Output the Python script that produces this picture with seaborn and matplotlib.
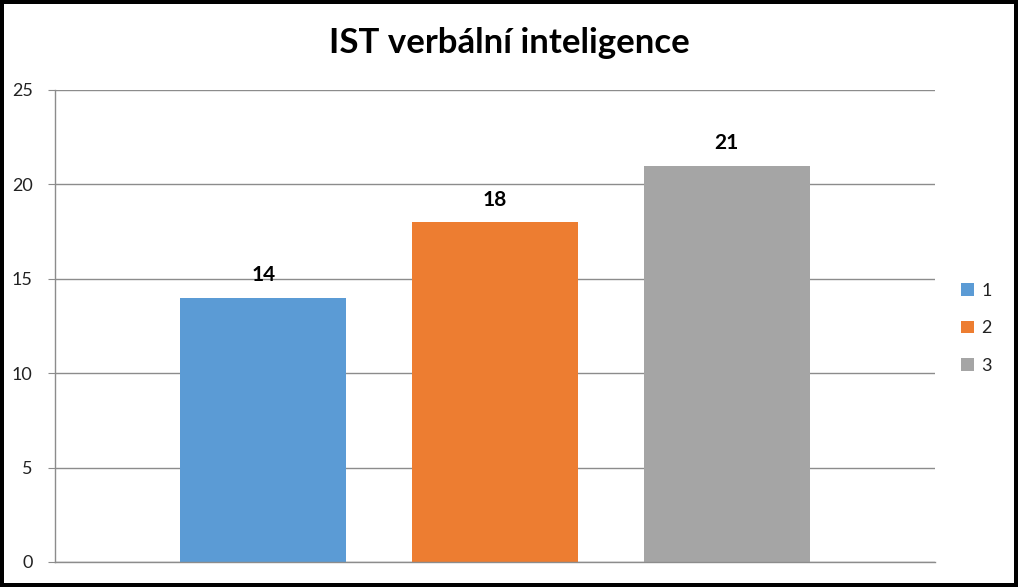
import matplotlib
matplotlib.use("Agg")
import matplotlib.pyplot as plt
import seaborn as sns
import pandas as pd

# chart data
categories = ["IST verbální inteligence"]
series = ["1", "2", "3"]
values = [14, 18, 21]
colors = ["#5B9BD5", "#ED7D31", "#A5A5A5"]
yticks = [0, 5, 10, 15, 20, 25]

sns.set_style("white")
plt.rcParams["font.family"] = ["Lato", "DejaVu Sans"]

df = pd.DataFrame({"Kategorie": categories * len(series), "Série": series, "Hodnota": values})

fig = plt.figure(figsize=(10.18, 5.87), dpi=100)
fig.patch.set_edgecolor("black")
fig.patch.set_linewidth(4.5)
ax = fig.add_axes([0.054, 0.0426, 0.8645, 0.8041])

sns.barplot(data=df, x="Kategorie", y="Hodnota", hue="Série", palette=colors,
            width=0.79, gap=0.285, saturation=1, linewidth=0, ax=ax, legend=True)

for cont in ax.containers:
    ax.bar_label(cont, fontsize=15, fontweight="bold", padding=9, color="black")

ax.set_ylim(0, 25)
ax.set_xlim(-0.5, 0.5)
ax.set_yticks(yticks)
ax.set_xticks([])
ax.set_xlabel("")
ax.set_ylabel("")
ax.yaxis.grid(True, color="#8c8c8c", linewidth=1)
ax.set_axisbelow(True)
for side in ["top", "right"]:
    ax.spines[side].set_visible(False)
for side in ["left", "bottom"]:
    ax.spines[side].set_color("#8c8c8c")
    ax.spines[side].set_linewidth(1)
ax.tick_params(axis="y", left=True, length=5, color="#8c8c8c", labelsize=13, pad=11,
               labelcolor="#222222")

handles, labels = ax.get_legend_handles_labels()
leg = ax.legend(handles, labels, loc="center left", bbox_to_anchor=(1.03, 0.495), frameon=False,
                borderaxespad=0, borderpad=0, handlelength=0.7, handleheight=0.7,
                handletextpad=0.4, labelspacing=1.2, fontsize=13)
for t in leg.get_texts():
    t.set_color("#222222")

fig.text(0.5, 1 - 43 / 587, "IST verbální inteligence", ha="center", va="center",
         fontsize=25, fontweight="bold", color="black")

fig.savefig("out.png", dpi=100, edgecolor=fig.get_edgecolor())
